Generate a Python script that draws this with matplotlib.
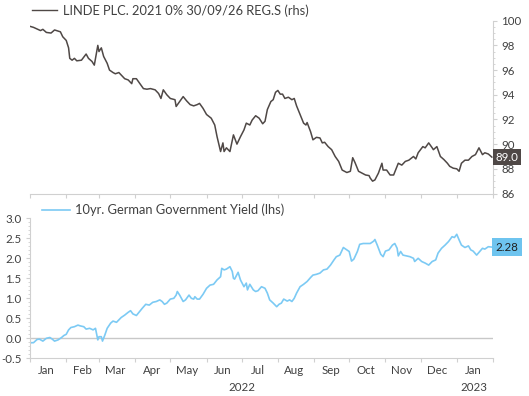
import matplotlib
matplotlib.use("Agg")
import matplotlib.pyplot as plt
import matplotlib.dates as mdates
import matplotlib.ticker as mticker
from matplotlib.transforms import offset_copy
import pandas as pd

plt.rcParams['font.family'] = ['Lato', 'DejaVu Sans']

start_date = "2022-01-01"

# LINDE bond price (rhs) : days since start_date, price
linde_days = [-1, 3, 9, 11, 14, 18, 21, 26, 28, 31, 33, 34, 36, 38, 40, 44, 48, 50, 53, 55,
              58, 59, 61, 63, 66, 68, 71, 73, 76, 78, 81, 84, 87, 88, 91, 94, 97, 100, 103, 107,
              110, 112, 114, 117, 120, 124, 125, 128, 131, 134, 137, 140, 143, 145, 148, 151, 155, 158, 160, 163,
              165, 166, 168, 171, 174, 177, 180, 183, 185, 188, 190, 193, 196, 199, 201, 203, 206, 208, 210, 212,
              214, 216, 218, 221, 224, 226, 228, 231, 234, 236, 237, 240, 242, 245, 248, 250, 252, 255, 258, 261,
              264, 267, 271, 274, 276, 278, 281, 284, 287, 290, 291, 293, 295, 298, 301, 302, 305, 308, 311, 314,
              315, 318, 321, 324, 328, 330, 332, 336, 338, 341, 344, 345, 348, 351, 354, 357, 359, 362, 365, 367,
              369, 372, 375, 378, 381, 384, 387, 389, 392, 395]
linde_vals = [99.57, 99.46, 99.2, 99.3, 99.05, 99.0, 99.25, 99.1, 98.7, 98.4, 97.8, 96.95, 96.8, 96.95, 96.75, 96.8, 97.3, 96.95, 96.7, 96.4,
              98.0, 97.5, 97.8, 97.1, 96.55, 96.0, 95.8, 95.7, 95.8, 95.6, 95.3, 95.2, 94.9, 95.3, 95.3, 94.9, 94.5, 94.45, 94.5, 94.4,
              94.1, 93.7, 94.4, 94.0, 93.7, 93.6, 93.05, 93.45, 93.85, 93.5, 93.2, 93.1, 93.2, 93.3, 92.9, 92.4, 92.1, 91.55, 90.6, 89.4,
              90.1, 89.4, 89.7, 89.4, 90.75, 90.0, 90.6, 91.15, 91.7, 91.55, 91.95, 92.3, 92.1, 91.65, 91.85, 92.8, 93.45, 93.6, 94.2, 94.35,
              94.05, 94.05, 93.7, 93.8, 93.6, 93.7, 93.1, 92.4, 91.7, 91.55, 91.75, 91.0, 90.35, 90.55, 90.5, 90.1, 90.15, 89.8, 89.55, 89.0,
              88.6, 87.9, 87.7, 87.8, 88.9, 88.5, 87.8, 87.65, 87.5, 87.45, 87.25, 87.0, 87.1, 87.65, 88.45, 87.9, 87.9, 87.5, 87.5, 88.2,
              88.45, 88.3, 88.6, 88.7, 89.0, 88.8, 89.3, 89.8, 89.7, 90.1, 89.7, 89.55, 89.8, 89.0, 88.75, 88.45, 88.2, 88.05, 88.0, 87.8,
              88.45, 88.7, 88.7, 89.0, 89.15, 89.7, 89.15, 89.3, 89.2, 88.95]

# 10yr German government yield (lhs)
bund_days = [-1, 1, 3, 6, 8, 11, 14, 17, 19, 21, 24, 27, 29, 31, 33, 35, 38, 41, 43, 46,
             48, 51, 54, 56, 58, 59, 61, 62, 64, 66, 69, 71, 74, 76, 78, 81, 84, 86, 88, 91,
             94, 96, 99, 102, 105, 108, 111, 113, 115, 117, 120, 123, 125, 126, 128, 131, 133, 136, 138, 140,
             141, 143, 145, 148, 151, 154, 157, 160, 163, 164, 166, 168, 171, 173, 174, 175, 178, 180, 183, 185,
             186, 188, 191, 193, 195, 198, 201, 203, 205, 208, 211, 213, 215, 217, 220, 222, 224, 226, 228, 231,
             234, 237, 240, 242, 245, 248, 251, 254, 257, 260, 262, 265, 268, 271, 273, 275, 277, 280, 282, 285,
             288, 291, 294, 295, 297, 300, 302, 304, 307, 310, 312, 314, 315, 317, 319, 322, 325, 328, 329, 332,
             335, 338, 341, 344, 347, 349, 352, 355, 358, 361, 363, 365, 367, 369, 372, 375, 377, 379, 382, 385,
             387, 389, 392, 395]
bund_vals = [-0.15, -0.11, -0.11, -0.03, -0.02, -0.07, 0.0, 0.02, -0.02, -0.07, -0.04, 0.02, 0.07, 0.1, 0.21, 0.27, 0.29, 0.33, 0.31, 0.29,
             0.23, 0.25, 0.21, 0.25, -0.04, 0.04, 0.04, -0.07, 0.08, 0.25, 0.38, 0.43, 0.4, 0.46, 0.52, 0.58, 0.65, 0.69, 0.61, 0.57,
             0.68, 0.75, 0.85, 0.83, 0.9, 0.92, 0.96, 0.92, 0.85, 0.88, 0.98, 1.0, 1.08, 1.17, 1.08, 0.92, 0.96, 1.08, 1.0, 0.98,
             1.04, 0.98, 0.98, 1.1, 1.25, 1.33, 1.35, 1.46, 1.54, 1.75, 1.71, 1.73, 1.79, 1.67, 1.5, 1.48, 1.65, 1.46, 1.29, 1.38,
             1.21, 1.35, 1.21, 1.17, 1.19, 1.29, 1.25, 1.13, 0.96, 0.88, 0.79, 0.85, 0.88, 0.98, 0.93, 0.96, 0.92, 1.0, 1.13, 1.29,
             1.35, 1.42, 1.52, 1.58, 1.6, 1.63, 1.71, 1.73, 1.83, 1.96, 2.04, 2.08, 2.27, 2.21, 2.17, 1.93, 1.98, 2.17, 2.35, 2.37,
             2.37, 2.37, 2.43, 2.47, 2.33, 2.1, 2.04, 2.18, 2.21, 2.33, 2.37, 2.25, 2.06, 2.17, 2.08, 2.06, 2.04, 2.0, 1.92, 2.0,
             1.92, 1.88, 1.83, 1.92, 1.96, 2.13, 2.25, 2.33, 2.42, 2.54, 2.52, 2.6, 2.46, 2.33, 2.27, 2.31, 2.21, 2.18, 2.08, 2.18,
             2.25, 2.23, 2.29, 2.28]

linde_label = "LINDE PLC. 2021 0% 30/09/26 REG.S (rhs)"
bund_label = "10yr. German Government Yield (lhs)"
linde_ticks = [86, 88, 90, 92, 94, 96, 98, 100]
bund_ticks = [-0.5, 0.0, 0.5, 1.0, 1.5, 2.0, 2.5, 3.0]
year_labels = [("2022-07-01", "2022"), ("2023-01-16", "2023")]

linde_color = "#4f4846"
bund_color = "#7ccaf4"
tag_blue = "#6ec4ef"
spine_color = "#d0d0d0"
text_color = "#404040"

t0 = pd.Timestamp(start_date)
linde_x = t0 + pd.to_timedelta(linde_days, unit="D")
bund_x = t0 + pd.to_timedelta(bund_days, unit="D")
xmin = pd.Timestamp("2022-01-01")
xmax = pd.Timestamp("2023-02-01")

W, H = 529, 396
fig = plt.figure(figsize=(W / 100, H / 100), dpi=100)

def frac(l, t, r, b):
    return [l / W, 1 - b / H, (r - l) / W, (b - t) / H]

ax1 = fig.add_axes(frac(30, 20.7, 493, 193.5))
ax2 = fig.add_axes(frac(30, 218.3, 493, 358.3))

for ax in (ax1, ax2):
    ax.set_xlim(xmin, xmax)
    ax.xaxis.set_major_locator(mdates.MonthLocator())
    ax.xaxis.set_major_formatter(mticker.NullFormatter())
    ax.tick_params(axis='x', which='major', length=3, color=spine_color, direction='out')
    ax.tick_params(axis='x', which='minor', length=0)
    for s in ax.spines.values():
        s.set_visible(False)
    ax.spines['bottom'].set_visible(True)
    ax.spines['bottom'].set_color(spine_color)
    ax.spines['bottom'].set_linewidth(0.8)
    ax.patch.set_alpha(0)

# top panel
ax1.plot(linde_x, linde_vals, color=linde_color, lw=1.1)
ax1.set_ylim(86, 100)
ax1.yaxis.tick_right()
ax1.set_yticks(linde_ticks)
ax1.set_yticklabels([str(v) for v in linde_ticks])
ax1.yaxis.set_minor_locator(mticker.MultipleLocator(0.5))
ax1.spines['right'].set_visible(True)
ax1.spines['right'].set_color(spine_color)
ax1.spines['right'].set_linewidth(0.8)
ax1.tick_params(axis='y', which='major', length=3, color=spine_color, labelsize=8.3,
                labelcolor=text_color, pad=3)
ax1.tick_params(axis='y', which='minor', length=1.5, color=spine_color)
ax1.plot([0.005, 0.058], [1.06, 1.06], transform=ax1.transAxes, color=linde_color,
         lw=1.0, clip_on=False)
ax1.text(0.072, 1.06, linde_label, transform=ax1.transAxes, fontsize=9.3,
         color=text_color, va='center', ha='left')
ax1.annotate(f"{linde_vals[-1]:.1f}", xy=(1.0, linde_vals[-1]),
             xycoords=('axes fraction', 'data'), xytext=(2, 0), textcoords='offset points',
             ha='left', va='center', fontsize=8.3, color='white',
             bbox=dict(boxstyle='square,pad=0.2', fc=linde_color, ec='none'),
             annotation_clip=False)

# bottom panel
ax2.axhline(0, color="#c8c8c8", lw=1.0, zorder=1)
ax2.plot(bund_x, bund_vals, color=bund_color, lw=1.2, zorder=2)
ax2.set_ylim(-0.5, 3.0)
ax2.set_yticks(bund_ticks)
ax2.set_yticklabels([f"{v:.1f}" for v in bund_ticks])
ax2.yaxis.set_minor_locator(mticker.MultipleLocator(0.1))
ax2.spines['left'].set_visible(True)
ax2.spines['left'].set_color(spine_color)
ax2.spines['left'].set_linewidth(0.8)
ax2.tick_params(axis='y', which='major', length=3, color=spine_color, labelsize=8.3,
                labelcolor=text_color, pad=3)
ax2.tick_params(axis='y', which='minor', length=1.5, color=spine_color)
ax2.xaxis.set_minor_locator(mdates.MonthLocator(bymonthday=15))
ax2.xaxis.set_minor_formatter(mdates.DateFormatter('%b'))
ax2.tick_params(axis='x', which='minor', labelsize=8.3, labelcolor=text_color, pad=5)
ax2.plot([0.026, 0.087], [1.06, 1.06], transform=ax2.transAxes, color=bund_color,
         lw=1.2, clip_on=False)
ax2.text(0.097, 1.06, bund_label, transform=ax2.transAxes, fontsize=9.3,
         color=text_color, va='center', ha='left')
ax2.annotate(f"{bund_vals[-1]:.2f}", xy=(1.0, bund_vals[-1]),
             xycoords=('axes fraction', 'data'), xytext=(2, 0), textcoords='offset points',
             ha='left', va='center', fontsize=8.3, color='#202020',
             bbox=dict(boxstyle='square,pad=0.3', fc=tag_blue, ec='none'),
             annotation_clip=False)

yr_tr = offset_copy(ax2.get_xaxis_transform(), fig=fig, x=0, y=-17, units='points')
for d, lab in year_labels:
    ax2.text(pd.Timestamp(d), 0, lab, transform=yr_tr, fontsize=8.3,
             color=text_color, ha='center', va='top')

fig.savefig("out.png", dpi=100)
